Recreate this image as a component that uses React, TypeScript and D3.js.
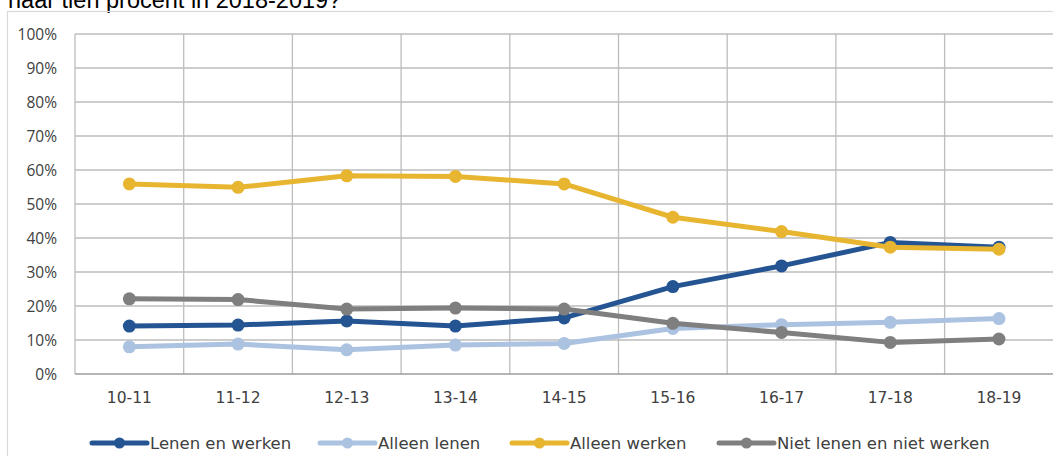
import * as d3 from "d3";

const categories = ["10-11", "11-12", "12-13", "13-14", "14-15", "15-16", "16-17", "17-18", "18-19"];

const lenenEnWerken = [14.1, 14.4, 15.6, 14.1, 16.5, 25.7, 31.8, 38.7, 37.3];
const alleenLenen = [8.0, 8.8, 7.1, 8.5, 9.0, 13.4, 14.5, 15.2, 16.3];
const alleenWerken = [55.9, 54.9, 58.3, 58.1, 55.9, 46.1, 41.9, 37.3, 36.7];
const nietLenenNietWerken = [22.1, 21.9, 19.1, 19.4, 19.1, 14.9, 12.2, 9.3, 10.3];

const yTicks = [0, 10, 20, 30, 40, 50, 60, 70, 80, 90, 100];

const series = [
  { name: "Lenen en werken", values: lenenEnWerken, color: "#245592" },
  { name: "Alleen lenen", values: alleenLenen, color: "#abc3e0" },
  { name: "Alleen werken", values: alleenWerken, color: "#e7b530" },
  { name: "Niet lenen en niet werken", values: nietLenenNietWerken, color: "#7f7f7f" },
];

const W = 1053;
const H = 456;

export default function App() {
  const x = d3.scaleBand<string>().domain(categories).range([75, 1053.3]);
  const y = d3.scaleLinear().domain([0, 100]).range([374, 34]);
  const line = d3
    .line<number>()
    .x((_, i) => x(categories[i])! + x.bandwidth() / 2)
    .y((d) => y(d));

  // legend positions (line start of each entry)
  const legendX = [92, 320, 512, 719];
  const legendY = 443;

  return (
    <svg
      width={W}
      height={H}
      style={{ position: "absolute", left: 0, top: 0 }}
    >
      <rect width={W} height={H} fill="#fff" />
      {/* heading, cut off at the top like the reference */}
      <text
        x={8}
        y={8}
        fontFamily="Liberation Sans, Arial, sans-serif"
        fontSize={23.5}
        fill="#000"
      >
        naar tien procent in 2018-2019?
      </text>
      <rect x={7.5} y={11.5} width={1100} height={500} fill="none" stroke="#d9d9d9" strokeWidth={1.2} />

      {/* horizontal grid */}
      {yTicks.slice(1).map((t) => (
        <line key={t} x1={75} x2={1053} y1={y(t)} y2={y(t)} stroke="#bdbdbd" strokeWidth={1.3} />
      ))}
      {/* vertical grid */}
      {categories.map((c) => (
        <line key={c} x1={x(c)!} x2={x(c)!} y1={y(100)} y2={y(0)} stroke="#bdbdbd" strokeWidth={1.3} />
      ))}
      <line x1={75} x2={1053} y1={y(0)} y2={y(0)} stroke="#9d9d9d" strokeWidth={1.6} />

      {/* y tick labels */}
      {yTicks.map((t) => (
        <text
          key={t}
          x={57}
          y={y(t)}
          dy="0.36em"
          textAnchor="end"
          fontFamily="Open Sans, sans-serif"
          fontSize={15.5}
          fill="#404040"
        >
          {t}%
        </text>
      ))}

      {/* category labels */}
      {categories.map((c) => (
        <text
          key={c}
          x={x(c)! + x.bandwidth() / 2}
          y={403}
          textAnchor="middle"
          fontFamily="DejaVu Sans, sans-serif"
          fontSize={15.5}
          fill="#404040"
        >
          {c}
        </text>
      ))}

      {/* series */}
      {series.map((s) => (
        <g key={s.name}>
          <path d={line(s.values)!} fill="none" stroke={s.color} strokeWidth={5} strokeLinejoin="round" />
          {s.values.map((v, i) => (
            <circle
              key={i}
              cx={x(categories[i])! + x.bandwidth() / 2}
              cy={y(v)}
              r={6.5}
              fill={s.color}
            />
          ))}
        </g>
      ))}

      {/* legend */}
      {series.map((s, i) => (
        <g key={s.name} transform={`translate(${legendX[i]},${legendY})`}>
          <line x1={0} x2={55} y1={0} y2={0} stroke={s.color} strokeWidth={5} strokeLinecap="round" />
          <circle cx={27.5} cy={0} r={5.5} fill={s.color} />
          <text
            x={58}
            y={0}
            dy="0.36em"
            fontFamily="DejaVu Sans, sans-serif"
            fontSize={16.5}
            fill="#404040"
          >
            {s.name}
          </text>
        </g>
      ))}
    </svg>
  );
}
